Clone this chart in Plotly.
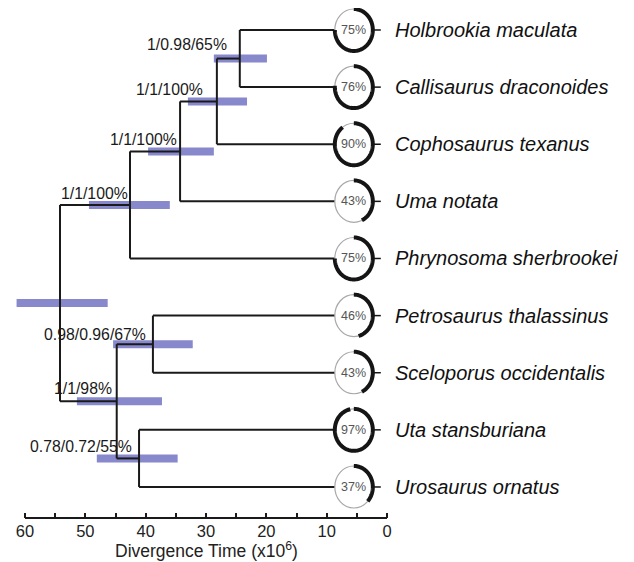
import math
import plotly.graph_objects as go

# ---------------- data ----------------
taxa = ["Holbrookia maculata", "Callisaurus draconoides", "Cophosaurus texanus",
        "Uma notata", "Phrynosoma sherbrookei", "Petrosaurus thalassinus",
        "Sceloporus occidentalis", "Uta stansburiana", "Urosaurus ornatus"]
tip_support = [75, 76, 90, 43, 75, 46, 43, 97, 37]

node_ids = ["n1", "n2", "n3", "n4", "n5", "n6", "n7", "root"]
node_children = [("Holbrookia maculata", "Callisaurus draconoides"),
                 ("n1", "Cophosaurus texanus"),
                 ("n2", "Uma notata"),
                 ("n3", "Phrynosoma sherbrookei"),
                 ("Petrosaurus thalassinus", "Sceloporus occidentalis"),
                 ("Uta stansburiana", "Urosaurus ornatus"),
                 ("n5", "n6"),
                 ("n4", "n7")]
node_age = [24.4, 28.2, 34.3, 42.6, 38.8, 41.1, 44.8, 54.2]
hpd_low = [19.9, 23.2, 28.7, 36.0, 32.2, 34.7, 37.3, 46.3]
hpd_high = [28.7, 33.0, 39.6, 49.4, 45.4, 48.1, 51.4, 61.4]
node_support = ["1/0.98/65%", "1/1/100%", "1/1/100%", "1/1/100%",
                "0.98/0.96/67%", "0.78/0.72/55%", "1/1/98%", ""]

major_ticks = [0, 10, 20, 30, 40, 50, 60]
major_labels = ["0", "10", "20", "30", "40", "50", "60"]
minor_ticks = [5, 15, 25, 35, 45, 55]
axis_title = "Divergence Time (x10<sup>6</sup>)"

# ---------------- styling / placement ----------------
TIP_X = 5.5          # where the tip rings sit on the time axis
FONT = "Liberation Sans, Arial, sans-serif"
label_dx = [-11, -12, -1, 0, -5, -5, -3, 0]
label_dy = [14, 12, 12, 11, 10, 12, 13, 0]

ypos = {t: i for i, t in enumerate(taxa)}
xpos = {t: TIP_X for t in taxa}
for nid, (a, b), age in zip(node_ids, node_children, node_age):
    ypos[nid] = (ypos[a] + ypos[b]) / 2.0
    xpos[nid] = age

# branches
bx, by = [], []
for nid, (a, b) in zip(node_ids, node_children):
    x = xpos[nid]
    bx += [x, x, None]
    by += [ypos[a], ypos[b], None]
    for c in (a, b):
        bx += [x, xpos[c], None]
        by += [ypos[c], ypos[c], None]

# HPD bars
hx, hy = [], []
for nid, lo, hi in zip(node_ids, hpd_low, hpd_high):
    hx += [hi, lo, None]
    hy += [ypos[nid], ypos[nid], None]

fig = go.Figure()
fig.add_trace(go.Scatter(x=hx, y=hy, mode="lines",
                         line=dict(color="#8888cc", width=8),
                         hoverinfo="skip", showlegend=False))
fig.add_trace(go.Scatter(x=bx, y=by, mode="lines",
                         line=dict(color="#1a1a1a", width=2),
                         hoverinfo="skip", showlegend=False))

shapes = []
annotations = []
RX, RY = 19, 21
for t, pct in zip(taxa, tip_support):
    y = ypos[t]
    common = dict(xref="x", yref="y", xsizemode="pixel", ysizemode="pixel",
                  xanchor=TIP_X, yanchor=y)
    shapes.append(dict(type="circle", x0=-RX, x1=RX, y0=-RY, y1=RY,
                       line=dict(color="#a8a8a8", width=1.2),
                       fillcolor="white", **common))
    n = max(2, int(pct * 1.2))
    pts = []
    for k in range(n + 1):
        th = 2 * math.pi * pct / 100.0 * k / n
        pts.append((RX * math.sin(th), RY * math.cos(th)))
    path = "M " + " L ".join(f"{px:.2f},{py:.2f}" for px, py in pts)
    shapes.append(dict(type="path", path=path,
                       line=dict(color="#151515", width=4), **common))
    shapes.append(dict(type="line", x0=RX, x1=RX + 8, y0=0, y1=0,
                       line=dict(color="#151515", width=1.5), **common))
    annotations.append(dict(x=TIP_X, y=y, xref="x", yref="y", text=f"{pct}%",
                            showarrow=False, xanchor="center", yanchor="middle",
                            font=dict(family=FONT, size=12.5, color="#555555")))
    annotations.append(dict(x=TIP_X, y=y, xref="x", yref="y", text=f"<i>{t}</i>",
                            showarrow=False, xanchor="left", yanchor="middle",
                            xshift=39,
                            font=dict(family=FONT, size=20, color="#111111")))

for nid, lab, dx, dy in zip(node_ids, node_support, label_dx, label_dy):
    if not lab:
        continue
    annotations.append(dict(x=xpos[nid], y=ypos[nid], xref="x", yref="y", text=lab,
                            showarrow=False, xanchor="right", yanchor="middle",
                            xshift=dx, yshift=dy,
                            font=dict(family=FONT, size=15.8, color="#1a1a1a")))

# x axis line
shapes.append(dict(type="line", xref="x", yref="paper", x0=60, x1=0, y0=0, y1=0,
                   line=dict(color="#1a1a1a", width=2)))
annotations.append(dict(x=30, y=0, xref="x", yref="paper", text=axis_title,
                        showarrow=False, xanchor="center", yanchor="bottom",
                        yshift=-44, borderpad=0,
                        font=dict(family=FONT, size=17.5, color="#222222")))

fig.update_layout(
    width=626, height=554,
    margin=dict(l=0, r=0, t=0, b=44),
    paper_bgcolor="white", plot_bgcolor="white",
    shapes=shapes, annotations=annotations,
    xaxis=dict(range=[62.82, -40.94], showgrid=False, zeroline=False, showline=False,
               tickmode="array", tickvals=major_ticks, ticktext=major_labels,
               ticks="inside", ticklen=5, tickwidth=2, tickcolor="#1a1a1a",
               ticklabelstandoff=1,
               minor=dict(tickmode="array", tickvals=minor_ticks, ticks="inside",
                          ticklen=5, tickwidth=2, tickcolor="#1a1a1a"),
               tickfont=dict(family=FONT, size=16.5, color="#222222")),
    yaxis=dict(range=[8.543, -0.385], showgrid=False, zeroline=False,
               showline=False, showticklabels=False, ticks=""),
)

fig.write_html("out.html")
